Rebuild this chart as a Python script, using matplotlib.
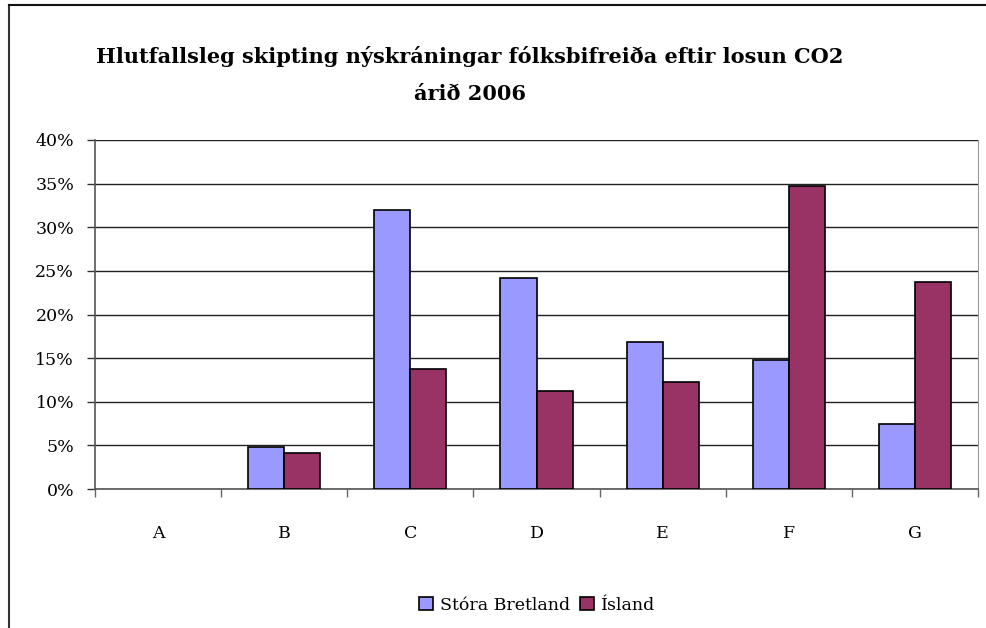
"""
Hlutfallsleg skipting nýskráningar fólksbifreiða eftir losun CO2, 2006.
Grouped bar chart, UK vs Iceland.
"""

import matplotlib
matplotlib.use("Agg")
import matplotlib.pyplot as plt
import numpy as np
from matplotlib.lines import Line2D
from matplotlib.patches import Patch
from matplotlib.ticker import FixedLocator, PercentFormatter


categories = ["A", "B", "C", "D", "E", "F", "G"]
stora_bretland = [0.0, 4.8, 32.0, 24.2, 16.8, 14.8, 7.5]
island = [0.0, 4.1, 13.7, 11.2, 12.3, 34.7, 23.7]
series_names = ["Stóra Bretland", "Ísland"]
title = "Hlutfallsleg skipting nýskráningar fólksbifreiða eftir losun CO2\nárið 2006"

COLORS = ["#9999FF", "#993366"]
FONT = ["DejaVu Serif", "Liberation Serif"]

plt.rcParams["font.family"] = FONT

W, H = 986, 628
fig = plt.figure(figsize=(W / 100, H / 100), dpi=100)
ax = fig.add_axes([95 / W, 1 - 489 / H, (978 - 95) / W, (489 - 140) / H])

x = np.arange(len(categories))
bar_w = 1 / 3.5
for i, (values, color, name) in enumerate(zip([stora_bretland, island], COLORS, series_names)):
    # empty categories get no outline
    widths = [1.2 if v > 0 else 0 for v in values]
    ax.bar(x + (i - 0.5) * bar_w, values, width=bar_w, color=color,
           edgecolor="black", linewidth=widths, label=name, zorder=3)

ax.set_xlim(-0.5, len(categories) - 0.5)
ax.set_ylim(0, 40)
ax.set_yticks(np.arange(0, 41, 5))
ax.yaxis.set_major_formatter(PercentFormatter(decimals=0))
ax.grid(True, axis="y", color="#222222", linewidth=1.0, zorder=0)

ax.set_xticks(x)
ax.set_xticklabels(categories)
ax.xaxis.set_minor_locator(FixedLocator(np.arange(-0.5, len(categories), 1.0)))
ax.tick_params(axis="x", which="major", length=0, pad=26, labelsize=12.5)
ax.tick_params(axis="x", which="minor", length=6, width=1, color="#666666")
ax.tick_params(axis="y", length=6, width=1, pad=9, labelsize=12.5, color="#333333")

for side in ["left", "bottom"]:
    ax.spines[side].set_color("#555555")
    ax.spines[side].set_linewidth(1.2)
ax.spines["right"].set_color("#999999")
ax.spines["top"].set_visible(False)

fig.text(470 / W, 1 - 75 / H, title, ha="center", va="center",
         fontsize=15, fontweight="bold", linespacing=2.1)

handles = [Patch(facecolor=c, edgecolor="black", linewidth=1.2, label=n)
           for c, n in zip(COLORS, series_names)]
fig.legend(handles=handles, loc="center", bbox_to_anchor=(537 / W, 1 - 605 / H),
           ncol=2, frameon=False, fontsize=12.5, handlelength=0.8, handleheight=0.8,
           handletextpad=0.4, columnspacing=0.6)

# outer chart border (left and top edges visible)
fig.add_artist(Line2D([8.5 / W, 8.5 / W], [0, 1 - 5 / H], color="#333333", linewidth=1.5))
fig.add_artist(Line2D([8.5 / W, 1], [1 - 5 / H, 1 - 5 / H], color="#111111", linewidth=1.5))

fig.savefig("out.png", dpi=100)
plt.close(fig)
